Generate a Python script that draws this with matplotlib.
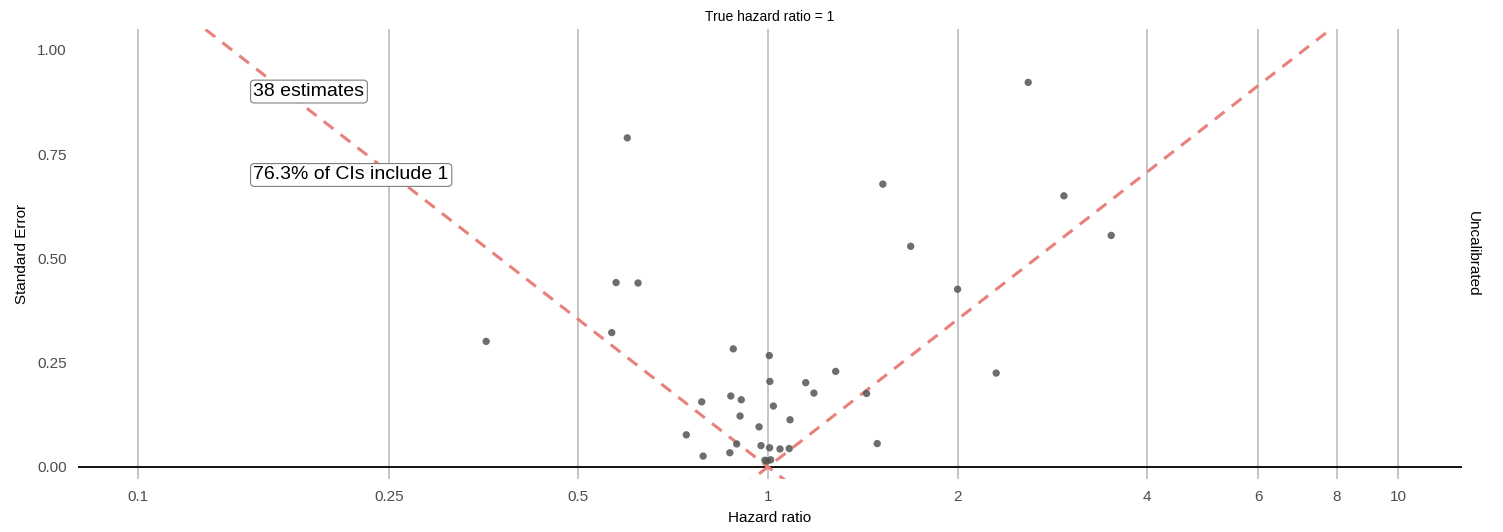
import numpy as np
import matplotlib
matplotlib.use("Agg")
import matplotlib.pyplot as plt

plt.rcParams['font.family'] = ['Liberation Sans', 'DejaVu Sans']

# estimates
hazard_ratio = [0.565, 0.881, 1.005, 1.007, 1.148, 1.281, 1.183, 1.434, 0.785, 0.873,
                0.907, 1.020, 0.903, 1.084, 0.968, 0.742, 0.892, 0.975, 1.006, 1.045,
                1.081, 1.491, 0.789, 0.870, 0.989, 1.010, 0.357, 0.574, 0.622, 0.598,
                2.589, 1.522, 1.685, 2.000, 2.950, 3.507, 2.303, 0.997]
std_error = [0.322, 0.283, 0.267, 0.205, 0.202, 0.229, 0.177, 0.176, 0.156, 0.170,
             0.161, 0.146, 0.122, 0.113, 0.096, 0.077, 0.055, 0.051, 0.046, 0.043,
             0.044, 0.056, 0.026, 0.034, 0.016, 0.017, 0.301, 0.442, 0.441, 0.789,
             0.922, 0.678, 0.529, 0.426, 0.650, 0.555, 0.225, 0.014]

x_ticks = [0.1, 0.25, 0.5, 1, 2, 4, 6, 8, 10]
x_tick_labels = ['0.1', '0.25', '0.5', '1', '2', '4', '6', '8', '10']
y_ticks = [0, 0.25, 0.5, 0.75, 1.0]
y_tick_labels = ['0.00', '0.25', '0.50', '0.75', '1.00']

# ends of the dashed significance lines (SE = |ln HR| / 1.96)
left_line_x = [0.128, 1.10]
right_line_x = [0.91, 7.8]

n_estimates = 38
pct_include = 76.3

fig = plt.figure(figsize=(15.03, 5.32), dpi=100)
ax = fig.add_axes([0.0519, 0.0996, 0.9208, 0.8459])

for t in x_ticks:
    ax.axvline(t, color='#c2c2c2', lw=1.3, zorder=1)
ax.axhline(0, color='black', lw=1.3, zorder=2)

xs = np.exp(np.linspace(np.log(left_line_x[0]), np.log(left_line_x[1]), 50))
ax.plot(xs, -np.log(xs) / 1.96, ls=(0, (4, 3)), color='#e8817c', lw=2.2, zorder=3)
xs = np.exp(np.linspace(np.log(right_line_x[0]), np.log(right_line_x[1]), 50))
ax.plot(xs, np.log(xs) / 1.96, ls=(0, (4, 3)), color='#e8817c', lw=2.2, zorder=3)

ax.scatter(hazard_ratio, std_error, s=28, color='#555555', alpha=0.85,
           edgecolors='none', zorder=4)

box = dict(boxstyle='round,pad=0.15,rounding_size=0.2', fc='white', ec='#7f7f7f', lw=0.8)
ax.text(0.1525, 0.9, '%d estimates' % n_estimates, fontsize=14, ha='left', va='center',
        bbox=box, zorder=5)
ax.text(0.1525, 0.7, '%.1f%% of CIs include 1' % pct_include, fontsize=14, ha='left',
        va='center', bbox=box, zorder=5)

ax.set_xscale('log')
ax.set_xlim(0.0803, 12.64)
ax.set_ylim(-0.029, 1.05)
ax.set_xticks(x_ticks)
ax.set_xticklabels(x_tick_labels)
ax.minorticks_off()
ax.set_yticks(y_ticks)
ax.set_yticklabels(y_tick_labels)
ax.tick_params(length=0, labelsize=11, colors='#4d4d4d', pad=8)
for s in ax.spines.values():
    s.set_visible(False)

ax.set_xlabel('Hazard ratio', fontsize=11, labelpad=5)
ax.set_ylabel('Standard Error', fontsize=11, labelpad=6)
ax.set_title('True hazard ratio = 1', fontsize=10, pad=6)
ax.text(1.003, 0.5, 'Uncalibrated', transform=ax.transAxes, rotation=-90,
        fontsize=11, ha='left', va='center')

fig.savefig('out.png', dpi=100)
